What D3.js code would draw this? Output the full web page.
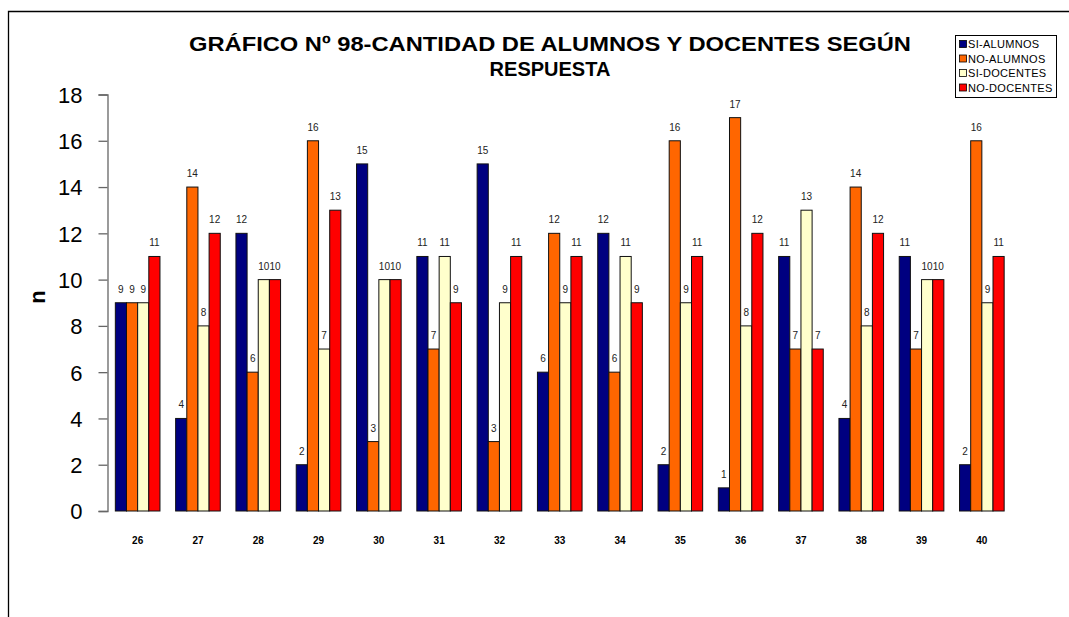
<!DOCTYPE html>
<html><head><meta charset="utf-8">
<script src="https://cdn.jsdelivr.net/npm/d3@7"></script>
<style>body{margin:0;background:#fff}svg{display:block;font-family:Arial,"Liberation Sans",sans-serif}</style>
</head><body>
<svg id="c" width="1069" height="617"></svg>
<script>
const categories = ["26","27","28","29","30","31","32","33","34","35","36","37","38","39","40"];
const seriesNames = ["SI-ALUMNOS","NO-ALUMNOS","SI-DOCENTES","NO-DOCENTES"];
const siAlumnos   = [9,4,12,2,15,11,15,6,12,2,1,11,4,11,2];
const noAlumnos   = [9,14,6,16,3,7,3,12,6,16,17,7,14,7,16];
const siDocentes  = [9,8,10,7,10,11,9,9,11,9,8,13,8,10,9];
const noDocentes  = [11,12,10,13,10,9,11,11,9,11,12,7,12,10,11];
const yTicks = [0,2,4,6,8,10,12,14,16,18];
const colors = ["#000080","#FF6600","#FFFFCC","#FF0000"];
const titleLines = ["GRÁFICO Nº 98-CANTIDAD DE ALUMNOS Y DOCENTES SEGÚN","RESPUESTA"];

const seriesVals = [siAlumnos, noAlumnos, siDocentes, noDocentes];
const svg = d3.select("#c");

// outer frame (left and top edges visible)
svg.append("path").attr("d","M8.5,617 V11.5 H1069").attr("fill","none").attr("stroke","#000").attr("stroke-width",1.3);

const x0 = d3.scaleBand().domain(categories).range([107.5,1012]).paddingInner(0.26).paddingOuter(0.13);
const x1 = d3.scaleBand().domain(seriesNames).range([0,x0.bandwidth()]);
const y = d3.scaleLinear().domain([0,18]).range([511,94.5]);

// y axis
const ax = svg.append("g").attr("transform","translate(107.5,0)")
  .call(d3.axisLeft(y).tickValues(yTicks).tickSize(9).tickPadding(16));
ax.select(".domain").attr("stroke","#666").attr("stroke-width",1.3);
ax.selectAll(".tick line").attr("stroke","#666").attr("stroke-width",1.3);
ax.selectAll(".tick text").attr("font-size",22).attr("fill","#000").attr("font-family","Arial, 'Liberation Sans', sans-serif")
  .attr("dy","0.36em");

// bars
const groups = svg.append("g").selectAll("g").data(categories).join("g")
  .attr("transform",c=>`translate(${x0(c)},0)`);
groups.each(function(c,i){
  const g = d3.select(this);
  seriesNames.forEach((s,k)=>{
    const v = seriesVals[k][i];
    g.append("rect").attr("x",x1(s)).attr("width",x1.bandwidth()).attr("y",y(v)).attr("height",y(0)-y(v))
      .attr("fill",colors[k]).attr("stroke","#111").attr("stroke-width",1);
    g.append("text").attr("x",x1(s)+x1.bandwidth()/2).attr("y",y(v)-10).attr("text-anchor","middle")
      .attr("font-size",10).attr("fill","#222").text(v);
  });
});

// category labels
svg.append("g").selectAll("text").data(categories).join("text")
  .attr("x",c=>x0(c)+x0.bandwidth()/2).attr("y",544).attr("text-anchor","middle")
  .attr("font-size",10).attr("font-weight","bold").attr("fill","#000").text(d=>d);

// y label
svg.append("text").attr("transform","translate(45,297) rotate(-90)").attr("text-anchor","middle")
  .attr("font-size",22).attr("font-weight","bold").text("n");

// title
const tt = svg.append("g").selectAll("text").data(titleLines).join("text")
  .attr("x",550).attr("y",(d,i)=>51+i*25).attr("text-anchor","middle")
  .attr("font-size",20).attr("font-weight","bold").attr("fill","#000").text(d=>d);
tt.filter((d,i)=>i===0).attr("textLength",722).attr("lengthAdjust","spacingAndGlyphs");

// legend
const lg = svg.append("g");
lg.append("rect").attr("x",955.5).attr("y",35.5).attr("width",101).attr("height",62).attr("fill","#fff").attr("stroke","#000").attr("stroke-width",1);
seriesNames.forEach((s,k)=>{
  const yy = 44 + k*14.5;
  lg.append("rect").attr("x",959.5).attr("y",yy-3.5).attr("width",7).attr("height",7).attr("fill",colors[k]).attr("stroke","#000").attr("stroke-width",0.8);
  lg.append("text").attr("x",968).attr("y",yy+4).attr("font-size",11).attr("letter-spacing",0.3).text(s);
});
</script>
</body></html>
